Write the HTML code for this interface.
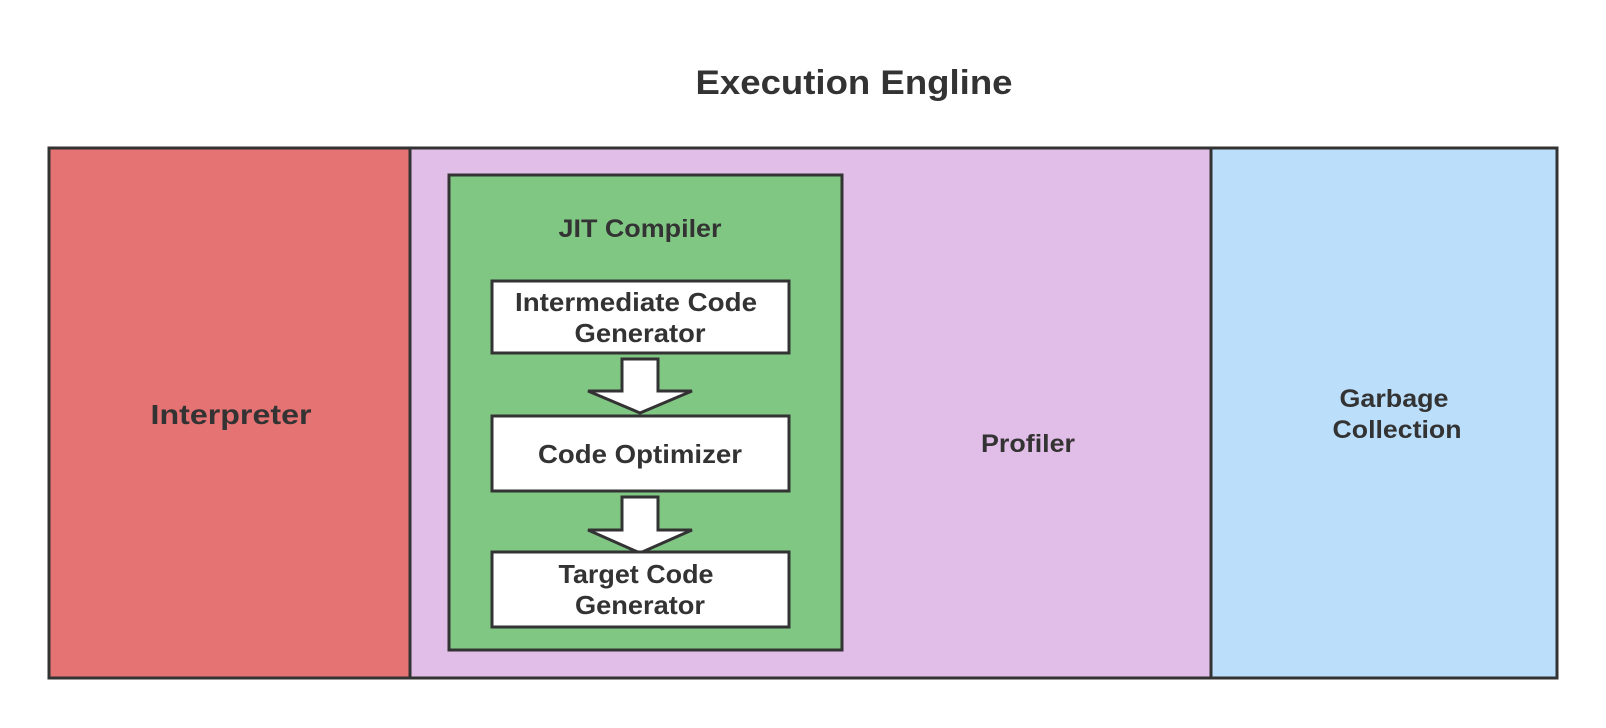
<!DOCTYPE html>
<html><head><style>
body{margin:0;width:1606px;height:728px;background:#fff;overflow:hidden;font-family:"Liberation Sans",sans-serif;font-weight:bold;color:#333}
</style></head><body>
<svg width="1606" height="728" xmlns="http://www.w3.org/2000/svg" style="position:absolute;left:0;top:0">
<g font-family="Liberation Sans, sans-serif" font-weight="bold" fill="#333" text-anchor="middle">
<text x="854" y="94" font-size="34" textLength="317" lengthAdjust="spacingAndGlyphs">Execution Engline</text>
<rect x="49" y="148" width="361" height="530" fill="#e57373" stroke="#333" stroke-width="3"/>
<rect x="410" y="148" width="801" height="530" fill="#e1bee7" stroke="#333" stroke-width="3"/>
<rect x="1211" y="148" width="346" height="530" fill="#bbdefb" stroke="#333" stroke-width="3"/>
<text x="231" y="424" font-size="28" textLength="161" lengthAdjust="spacingAndGlyphs">Interpreter</text>
<text x="1028" y="452" font-size="25" textLength="94" lengthAdjust="spacingAndGlyphs">Profiler</text>
<text x="1394" y="407" font-size="25" textLength="109" lengthAdjust="spacingAndGlyphs">Garbage</text>
<text x="1397" y="438" font-size="25" textLength="129" lengthAdjust="spacingAndGlyphs">Collection</text>
<rect x="449" y="175" width="393" height="475" fill="#81c784" stroke="#333" stroke-width="3"/>
<text x="640" y="237" font-size="25" textLength="163" lengthAdjust="spacingAndGlyphs">JIT Compiler</text>
<rect x="492" y="281" width="297" height="72" fill="#fff" stroke="#333" stroke-width="3"/>
<text x="636" y="311" font-size="26" textLength="242" lengthAdjust="spacingAndGlyphs">Intermediate Code</text>
<text x="640" y="342" font-size="26" textLength="131" lengthAdjust="spacingAndGlyphs">Generator</text>
<polygon points="622,359 658,359 658,391 692,391 640,413 588,391 622,391" fill="#fff" stroke="#333" stroke-width="3"/>
<rect x="492" y="416" width="297" height="75" fill="#fff" stroke="#333" stroke-width="3"/>
<text x="640" y="463" font-size="26" textLength="204" lengthAdjust="spacingAndGlyphs">Code Optimizer</text>
<polygon points="622,497 658,497 658,530 692,530 640,553 588,530 622,530" fill="#fff" stroke="#333" stroke-width="3"/>
<rect x="492" y="552" width="297" height="75" fill="#fff" stroke="#333" stroke-width="3"/>
<text x="636" y="583" font-size="26" textLength="155" lengthAdjust="spacingAndGlyphs">Target Code</text>
<text x="640" y="614" font-size="26" textLength="130" lengthAdjust="spacingAndGlyphs">Generator</text>
</g>
</svg>
</body></html>
